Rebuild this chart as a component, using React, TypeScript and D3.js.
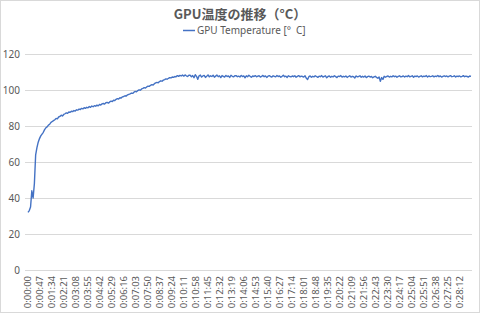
import React from "react";
import * as d3 from "d3";

const title = "GPU温度の推移（°C）";
const seriesName = "GPU Temperature [°\u2002C]";
const sampleStepSec = 5;
const lastSecond = 1735;

const temps: number[] = [
  32,33,35,44,40,48,64,68,71,73,74.5,75.5,76.5,78,79,79.5,80.5,81,82,82.5,
  83,83.5,84.2,84,85,85.3,86,85.6,86.4,86.8,87.3,87,87.8,87.6,88.2,88,88.6,88.3,89,88.8,
  89.4,89.1,89.8,89.5,90.2,89.8,90.4,90.1,90.8,90.4,91.1,90.7,91.3,91,91.6,91.2,92,91.6,92.3,92.5,
  92.2,92.9,93.1,92.7,93.4,93.8,93.6,94.3,94.1,94.8,95.2,95,95.7,95.5,96.2,96.4,96.8,96.6,97.3,97.6,
  97.9,98.3,98.1,98.8,99.2,99.0,99.7,100.1,99.9,100.6,100.9,101.3,101.1,101.7,102.1,102.0,102.6,103.0,102.8,103.5,
  103.9,104.2,104.0,104.7,105.1,104.9,105.5,105.8,106.2,106.0,106.5,106.9,106.7,107.2,107.0,107.5,107.3,108.0,107.6,108.1,
  107.8,108.3,107.7,108.4,107.9,107.5,108.2,
  108.2,107.4,108.0,106.8,108.5,107.6,105.9,107.9,108.3,107.2,107.8,108.1,107.0,107.6,108.4,107.3,107.9,107.5,108.2,107.1,
  107.7,108.3,107.4,107.9,106.9,108.0,107.6,107.2,108.1,107.5,107.8,107.0,108.2,107.6,107.3,107.9,108.0,107.4,107.7,107.2,
  108.1,107.5,107.8,106.8,107.9,107.4,108.2,107.6,107.1,107.8,107.5,108.0,107.3,107.7,107.9,107.2,107.6,108.1,107.4,107.8,
  107.0,107.7,108.0,107.5,107.2,107.9,107.6,107.3,108.1,107.5,107.8,107.1,107.6,108.2,107.4,107.7,107.0,107.9,107.5,107.3,
  107.8,107.4,107.9,107.1,107.6,108.0,107.3,107.7,107.5,107.2,107.9,106.5,105.8,107.4,107.8,107.1,107.6,107.3,107.9,107.5,
  107.0,107.7,107.4,108.0,107.2,107.6,107.9,106.8,107.5,107.8,107.1,107.6,107.3,107.9,107.4,106.9,107.7,107.5,108.0,107.2,
  107.6,107.3,107.8,107.0,107.5,107.9,107.2,107.6,107.4,106.7,107.8,107.3,107.5,107.9,107.1,107.6,107.2,107.8,106.9,107.4,
  107.7,107.2,107.5,106.8,107.3,107.6,107.0,106.5,107.2,104.8,106.9,105.9,107.6,107.1,107.5,107.8,107.2,107.6,107.3,107.9,
  107.4,107.7,107.1,107.6,107.9,107.3,107.5,107.8,107.2,107.7,107.4,108.0,107.3,107.6,107.9,107.1,107.7,107.5,107.8,107.2,
  107.6,107.9,107.3,107.7,107.5,108.0,107.2,107.8,107.4,107.6,107.9,107.3,107.7,107.5,108.1,107.4,107.8,107.2,107.6,107.9,
  107.5,107.8,107.3,107.7,108.0,107.4,107.6,107.9,107.2,107.7,107.5,107.8,107.3,107.6,108.0,107.4,107.7,107.5,107.2,107.8,
  107.6,
];

const tickLabels: string[] = [
  "0:00:00","0:00:47","0:01:34","0:02:21","0:03:08","0:03:55","0:04:42","0:05:29",
  "0:06:16","0:07:03","0:07:50","0:08:37","0:09:24","0:10:11","0:10:58","0:11:45",
  "0:12:32","0:13:19","0:14:06","0:14:53","0:15:40","0:16:27","0:17:14","0:18:01",
  "0:18:48","0:19:35","0:20:22","0:21:09","0:21:56","0:22:43","0:23:30","0:24:17",
  "0:25:04","0:25:51","0:26:38","0:27:25","0:28:12",
];
const yTicks = [0, 20, 40, 60, 80, 100, 120];

function toSec(label: string): number {
  const [h, m, s] = label.split(":").map(Number);
  return h * 3600 + m * 60 + s;
}

export default function App() {
  const W = 480, H = 313;
  const plotL = 25, plotR = 472;
  const x = d3.scaleLinear().domain([0, lastSecond]).range([28, 471]);
  const y = d3.scaleLinear().domain([0, 120]).range([270, 54]);
  const line = d3
    .line<number>()
    .x((_, i) => x(i * sampleStepSec))
    .y((d) => y(d));
  const font = "'Noto Sans', 'Liberation Sans', sans-serif";
  const gray = "#595959";
  return (
    <svg width={W} height={H} style={{ position: "absolute", left: 0, top: 0, background: "#fff" }} fontFamily={font}>
      <rect x={0.5} y={0.5} width={W - 1} height={H - 1} fill="#fff" stroke="#d9d9d9" />
      <text x={240} y={19} textAnchor="middle" fontSize={13} fontWeight="bold" fill={gray}
        fontFamily="'Noto Sans CJK JP', sans-serif">{title}</text>
      <line x1={183} x2={195} y1={30.5} y2={30.5} stroke="#4472C4" strokeWidth={1.5} />
      <text x={197} y={34} fontSize={10} fill={gray} style={{ whiteSpace: "pre" }}>{seriesName}</text>
      {yTicks.map((t) => (
        <g key={t}>
          <line x1={plotL} x2={plotR} y1={Math.round(y(t)) + 0.5} y2={Math.round(y(t)) + 0.5} stroke="#d9d9d9" strokeWidth={1} />
          <text x={20} y={y(t) + 3.5} textAnchor="end" fontSize={10} fill={gray}>{t}</text>
        </g>
      ))}
      {tickLabels.map((l) => (
        <text key={l} transform={`translate(${x(toSec(l)) + 3.3},276) rotate(-90)`} textAnchor="end"
          fontSize={9.5} fill={gray}>{l}</text>
      ))}
      <path d={line(temps) || ""} fill="none" stroke="#4472C4" strokeWidth={1.4} strokeLinejoin="round" />
    </svg>
  );
}
